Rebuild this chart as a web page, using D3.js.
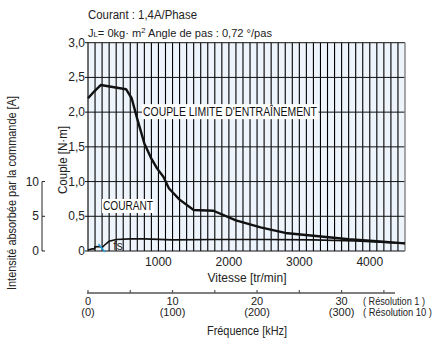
<!DOCTYPE html>
<html>
<head>
<meta charset="utf-8">
<script src="https://cdn.jsdelivr.net/npm/d3@7"></script>
<style>
  body { margin: 0; background: #fff; }
  svg { display: block; font-family: "Liberation Sans", Arial, sans-serif; }
</style>
</head>
<body>
<div id="chart"></div>
<script>
// torque limit curve (tr/min, N·m)
var torqueRpm = [0, 90, 180, 540, 620, 700, 800, 900, 980, 1070, 1150, 1300, 1500, 1780, 2100, 2450, 2800, 3200, 3700, 4100, 4500];
var torqueNm = [2.2, 2.3, 2.39, 2.33, 2.2, 1.9, 1.55, 1.33, 1.19, 1.07, 0.9, 0.74, 0.59, 0.58, 0.44, 0.34, 0.26, 0.22, 0.17, 0.14, 0.11];

// current draw (tr/min, A)
var currentRpm = [0, 60, 90, 100, 160, 200, 240, 300, 400, 600, 800, 1200, 1800, 2500, 3200, 3800, 4500];
var currentA = [0.15, 0.3, 0.3, 0.6, 0.65, 0.5, 0.9, 1.4, 1.65, 1.75, 1.75, 1.6, 1.65, 1.65, 1.6, 1.45, 1.1];

var torqueTicks = [0, 0.5, 1.0, 1.5, 2.0, 2.5, 3.0];
var speedTicks = [1000, 2000, 3000, 4000];
var currentTicks = [0, 5, 10];
var freqTicks = [0, 10, 20, 30];
var freqMinorTicks = [0, 5, 10, 15, 20, 25, 30, 35];
var freqLabels10 = ['(0)', '(100)', '(200)', '(300)'];

var width = 436, height = 340;
var svg = d3.select('#chart').append('svg')
    .attr('width', width)
    .attr('height', height);

var x = d3.scaleLinear().domain([0, 4500]).range([88, 405]);
var y = d3.scaleLinear().domain([0, 3]).range([251, 42.7]);
var yA = d3.scaleLinear().domain([0, 10]).range([y(0), y(1)]);
// 0,72°/pas, résolution 1 : 1 kHz = 120 tr/min
var xF = d3.scaleLinear().domain([0, 4500 / 120]).range([88, 405]);

var fmt = function(d) { return d === 0 ? '0' : d3.format('.1f')(d).replace('.', ','); };

// squeeze text to look like the narrow face of the original
function squeeze(sel, len) {
    sel.attr('textLength', len).attr('lengthAdjust', 'spacingAndGlyphs');
    return sel;
}

// plot background
svg.append('rect')
    .attr('x', x(0)).attr('y', y(3))
    .attr('width', x(4500) - x(0)).attr('height', y(0) - y(3))
    .attr('fill', '#edf4fb');

// vertical grid every 100 tr/min
svg.append('g').selectAll('line')
    .data(d3.range(100, 4500, 100))
    .enter().append('line')
    .attr('x1', function(d) { return x(d); })
    .attr('x2', function(d) { return x(d); })
    .attr('y1', y(3)).attr('y2', y(0))
    .attr('stroke', '#000')
    .attr('stroke-width', 1.1);

// horizontal grid
svg.append('g').selectAll('line')
    .data(torqueTicks)
    .enter().append('line')
    .attr('x1', x(0) - 3).attr('x2', x(4500))
    .attr('y1', function(d) { return y(d); })
    .attr('y2', function(d) { return y(d); })
    .attr('stroke', '#111')
    .attr('stroke-width', 1);

// frame
svg.append('line').attr('x1', x(0)).attr('x2', x(0)).attr('y1', y(3)).attr('y2', y(0))
    .attr('stroke', '#111').attr('stroke-width', 1.2);
svg.append('line').attr('x1', x(4500)).attr('x2', x(4500)).attr('y1', y(3)).attr('y2', y(0))
    .attr('stroke', '#888').attr('stroke-width', 1.5);

// torque tick labels
svg.append('g').selectAll('text')
    .data(torqueTicks)
    .enter().append('text')
    .attr('x', x(0) - 3)
    .attr('y', function(d) { return y(d) + 4; })
    .attr('text-anchor', 'end')
    .attr('font-size', 12)
    .attr('fill', '#222')
    .text(fmt);

// speed tick labels
svg.append('g').selectAll('text')
    .data(speedTicks)
    .enter().append('text')
    .attr('x', function(d) { return x(d); })
    .attr('y', 266)
    .attr('text-anchor', 'middle')
    .attr('font-size', 12)
    .attr('fill', '#222')
    .text(function(d) { return d; });

// labels with background
function boxLabel(tx, ty, str, len) {
    var g = svg.append('g');
    var t = g.append('text')
        .attr('x', tx).attr('y', ty)
        .attr('font-size', 12)
        .attr('fill', '#111')
        .text(str);
    squeeze(t, len);
    var b = t.node().getBBox();
    g.insert('rect', 'text')
        .attr('x', b.x - 1).attr('y', b.y)
        .attr('width', b.width + 2).attr('height', b.height)
        .attr('fill', '#fff');
}
boxLabel(143, y(2) + 4, 'COUPLE LIMITE D\'ENTRAÎNEMENT', 174);
boxLabel(103, 210, 'COURANT', 50);

// curves
var line = d3.line();
svg.append('path')
    .datum(currentRpm.map(function(r, i) { return [x(r), yA(currentA[i])]; }))
    .attr('d', line)
    .attr('fill', 'none')
    .attr('stroke', '#111')
    .attr('stroke-width', 1.6);

svg.append('path')
    .datum(torqueRpm.map(function(r, i) { return [x(r), y(torqueNm[i])]; }))
    .attr('d', line)
    .attr('fill', 'none')
    .attr('stroke', '#111')
    .attr('stroke-width', 2.4)
    .attr('stroke-linejoin', 'round');

// fs marker
svg.append('line')
    .attr('x1', x(150)).attr('y1', y(0) - 7)
    .attr('x2', x(240)).attr('y2', y(0) + 1)
    .attr('stroke', '#2aa3dd')
    .attr('stroke-width', 1.6);
svg.append('text')
    .attr('x', x(360)).attr('y', y(0) - 1)
    .attr('font-size', 12)
    .attr('fill', '#222')
    .text('fs');

// current axis (left)
var axA = svg.append('g');
axA.append('line')
    .attr('x1', 42).attr('x2', 42)
    .attr('y1', yA(0)).attr('y2', yA(10))
    .attr('stroke', '#222');
axA.selectAll('.tk').data(currentTicks).enter().append('line')
    .attr('x1', 42).attr('x2', 45)
    .attr('y1', function(d) { return yA(d); })
    .attr('y2', function(d) { return yA(d); })
    .attr('stroke', '#222');
axA.selectAll('text').data(currentTicks).enter().append('text')
    .attr('x', 39)
    .attr('y', function(d) { return yA(d) + 4; })
    .attr('text-anchor', 'end')
    .attr('font-size', 12)
    .attr('fill', '#222')
    .text(function(d) { return d; });

// axis titles
squeeze(svg.append('text')
    .attr('transform', 'translate(67,160) rotate(-90)')
    .attr('text-anchor', 'middle')
    .attr('font-size', 12)
    .attr('fill', '#222')
    .text('Couple [N·m]'), 68);
squeeze(svg.append('text')
    .attr('transform', 'translate(16,193) rotate(-90)')
    .attr('text-anchor', 'middle')
    .attr('font-size', 12)
    .attr('fill', '#222')
    .text('Intensité absorbée par la commande [A]'), 194);
squeeze(svg.append('text')
    .attr('x', 247).attr('y', 282)
    .attr('text-anchor', 'middle')
    .attr('font-size', 12)
    .attr('fill', '#222')
    .text('Vitesse [tr/min]'), 79);

// frequency axis
var fy = 293;
svg.append('line')
    .attr('x1', xF(0) - 1).attr('x2', 395)
    .attr('y1', fy).attr('y2', fy)
    .attr('stroke', '#555').attr('stroke-width', 1.5);
svg.append('g').selectAll('line')
    .data(freqMinorTicks)
    .enter().append('line')
    .attr('x1', function(d) { return xF(d); })
    .attr('x2', function(d) { return xF(d); })
    .attr('y1', fy).attr('y2', fy - 3)
    .attr('stroke', '#555').attr('stroke-width', 1.2);
svg.append('g').selectAll('text')
    .data(freqTicks)
    .enter().append('text')
    .attr('x', function(d) { return xF(d); })
    .attr('y', 305)
    .attr('text-anchor', 'middle')
    .attr('font-size', 11)
    .attr('fill', '#222')
    .text(function(d) { return d; });
svg.append('g').selectAll('text')
    .data(freqTicks)
    .enter().append('text')
    .attr('x', function(d) { return xF(d); })
    .attr('y', 316)
    .attr('text-anchor', 'middle')
    .attr('font-size', 11)
    .attr('fill', '#222')
    .text(function(d, i) { return freqLabels10[i]; });
squeeze(svg.append('text')
    .attr('x', 363).attr('y', 305)
    .attr('font-size', 11)
    .attr('fill', '#222')
    .text('( Résolution 1 )'), 62);
squeeze(svg.append('text')
    .attr('x', 363).attr('y', 316)
    .attr('font-size', 11)
    .attr('fill', '#222')
    .text('( Résolution 10 )'), 69);
squeeze(svg.append('text')
    .attr('x', 247).attr('y', 335)
    .attr('text-anchor', 'middle')
    .attr('font-size', 12)
    .attr('fill', '#222')
    .text('Fréquence [kHz]'), 80);

// header
squeeze(svg.append('text')
    .attr('x', 88).attr('y', 19)
    .attr('font-size', 12)
    .attr('fill', '#222')
    .text('Courant : 1,4A/Phase'), 109);
var h2 = svg.append('text')
    .attr('x', 88).attr('y', 37)
    .attr('font-size', 11.5)
    .attr('fill', '#222');
h2.append('tspan').text('J');
h2.append('tspan').attr('font-size', 8).text('L');
h2.append('tspan').text('= 0kg· m');
h2.append('tspan').attr('font-size', 8).attr('dy', -4).text('2');
h2.append('tspan').attr('dy', 4).text(' Angle de pas : 0,72 °/pas');
squeeze(h2, 184);
</script>
</body>
</html>
